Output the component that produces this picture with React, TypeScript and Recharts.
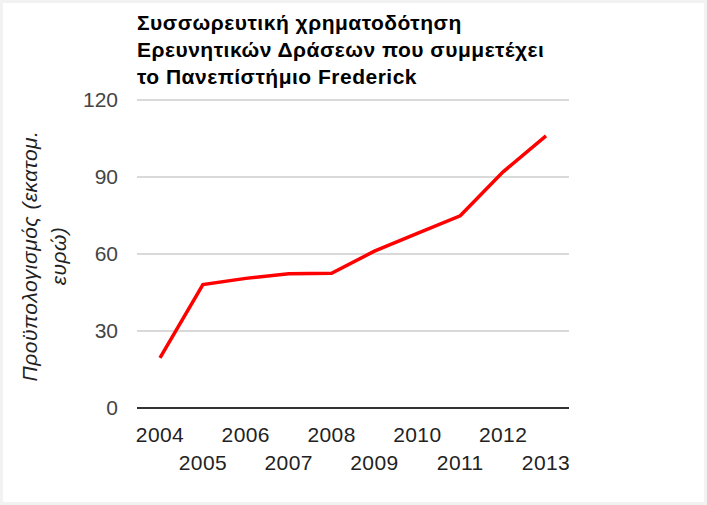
import React from "react";
import { CartesianGrid, Line, LineChart, XAxis, YAxis } from "recharts";

const years = ["2004", "2005", "2006", "2007", "2008", "2009", "2010", "2011", "2012", "2013"];
const budget = [19.5, 48.1, 50.5, 52.3, 52.5, 61.1, 68.0, 74.9, 92.0, 106.0];
const yTicks = [0, 30, 60, 90, 120];
const titleLines = [
  "Συσσωρευτική χρηματοδότηση",
  "Ερευνητικών Δράσεων που συμμετέχει",
  "το Πανεπίστήμιο Frederick",
];
const yLabelLines = ["Προϋπολογισμός (εκατομ.", "ευρώ)"];

const FONT = '"Liberation Sans", Arial, sans-serif';

const data = years.map((y, i) => ({ year: y, value: budget[i] }));

function YearTick(props: any) {
  const { x, y, payload, index } = props;
  const row = index % 2 === 0 ? 26 : 54;
  return (
    <text
      x={x}
      y={y + row}
      textAnchor="middle"
      fill="#222"
      fontSize={21}
      letterSpacing={0.4}
      fontFamily={FONT}
    >
      {payload.value}
    </text>
  );
}

function YLabel() {
  return (
    <text
      transform="translate(37,256) rotate(-90)"
      textAnchor="middle"
      fill="#222"
      fontSize={21}
      fontStyle="italic"
      letterSpacing={0.5}
      fontFamily={FONT}
    >
      {yLabelLines.map((t, i) => (
        <tspan key={i} x={0} y={i * 29}>
          {t}
        </tspan>
      ))}
    </text>
  );
}

export default function App() {
  return (
    <div
      style={{
        position: "absolute",
        left: 0,
        top: 0,
        width: 707,
        height: 505,
        background: "#f2f2f2",
      }}
    >
      <div
        style={{
          position: "absolute",
          left: 3,
          top: 3,
          width: 701,
          height: 499,
          background: "#fff",
        }}
      />
      <div
        style={{
          position: "absolute",
          left: 137,
          top: 9,
          fontFamily: FONT,
          fontWeight: "bold",
          fontSize: 21,
          lineHeight: "27px",
          letterSpacing: "0.5px",
          color: "#000",
          whiteSpace: "nowrap",
        }}
      >
        {titleLines.map((t, i) => (
          <div key={i}>{t}</div>
        ))}
      </div>
      <div style={{ position: "absolute", left: 0, top: 0 }}>
        <LineChart
          width={707}
          height={505}
          data={data}
          margin={{ top: 100, right: 138, bottom: 37, left: 0 }}
        >
          <CartesianGrid vertical={false} stroke="#cccccc" strokeWidth={1.5} />
          <XAxis
            dataKey="year"
            height={60}
            padding={{ left: 23, right: 23 }}
            axisLine={{ stroke: "#333", strokeWidth: 2 }}
            tickLine={false}
            interval={0}
            tick={<YearTick />}
          />
          <YAxis
            width={137}
            domain={[0, 120]}
            ticks={yTicks}
            axisLine={false}
            tickLine={false}
            tickSize={0}
            tickMargin={19}
            tick={{ fill: "#444", fontSize: 21, fontFamily: FONT }}
            label={<YLabel />}
          />
          <Line
            dataKey="value"
            stroke="#ff0000"
            strokeWidth={3.5}
            dot={false}
            isAnimationActive={false}
          />
        </LineChart>
      </div>
    </div>
  );
}
